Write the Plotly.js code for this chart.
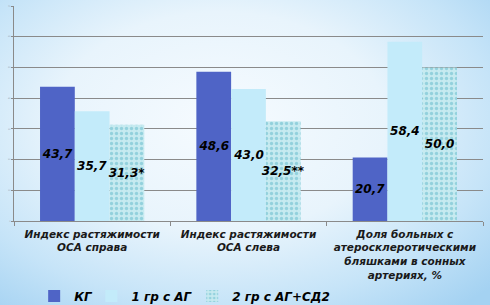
<!DOCTYPE html>
<html>
<head>
<meta charset="utf-8">
<script src="https://cdn.plot.ly/plotly-3.0.1.min.js"></script>
<style>
html,body{margin:0;padding:0;}
body{width:490px;height:305px;overflow:hidden;
background: radial-gradient(ellipse 75% 80% at 45% 40%, #f6fbff 0%, #e8f4fc 45%, #c6e4f8 75%, #a4d2f2 100%);}
#chart{width:490px;height:305px;}
</style>
</head>
<body>
<div id="chart"></div>
<script>
const categories = [
  'Индекс растяжимости<br>ОСА справа',
  'Индекс растяжимости<br>ОСА слева',
  'Доля больных с<br>атеросклеротическими<br>бляшками в сонных<br>артериях, %'
];
const seriesNames = ['КГ', '1 гр с АГ', '2 гр с АГ+СД2'];
const valuesKG = [43.7, 48.6, 20.7];
const valuesAG = [35.7, 43.0, 58.4];
const valuesAGSD = [31.3, 32.5, 50.0];
const labelsKG = ['43,7', '48,6', '20,7'];
const labelsAG = ['35,7', '43,0', '58,4'];
const labelsAGSD = ['31,3*', '32,5**', '50,0'];
const yTicks = [0, 10, 20, 30, 40, 50, 60, 70];

const labelFont = {family: 'DejaVu Sans', size: 12, color: '#000', weight: 'bold', style: 'italic'};
const legendFont = {family: 'DejaVu Sans', size: 12, color: '#000', weight: 'bold', style: 'italic'};

function barTrace(name, vals, labels, marker, legendId) {
  return {
    type: 'bar', name: name, x: categories, y: vals, text: labels,
    textposition: 'inside', insidetextanchor: 'middle', constraintext: 'none',
    textangle: 0, insidetextfont: labelFont, textfont: labelFont,
    marker: marker, hoverinfo: 'none', cliponaxis: false, legend: legendId
  };
}

const data = [
  barTrace(seriesNames[0], valuesKG, labelsKG, {color: '#4f64c6', line: {width: 0}}, 'legend'),
  barTrace(seriesNames[1], valuesAG, labelsAG, {color: '#c3ebfa', line: {width: 0}}, 'legend2'),
  barTrace(seriesNames[2], valuesAGSD, labelsAGSD, {
    color: '#c4e9ef', line: {width: 0},
    pattern: {shape: '.', fgcolor: '#93d1dd', bgcolor: '#c6eaf0', size: 5, solidity: 0.35}
  }, 'legend3')
];

function legendAt(x) {
  return {orientation: 'h', x: x, xanchor: 'left', y: -0.349, yanchor: 'middle',
    font: legendFont, bgcolor: 'rgba(0,0,0,0)', itemwidth: 30, borderwidth: 0};
}

const layout = {
  width: 490, height: 305,
  paper_bgcolor: 'rgba(0,0,0,0)', plot_bgcolor: 'rgba(0,0,0,0)',
  margin: {l: 14, r: 7, t: 6, b: 84, autoexpand: false},
  barmode: 'group', bargap: 0.333, bargroupgap: 0,
  showlegend: true,
  legend: legendAt(0.043),
  legend2: legendAt(0.165),
  legend3: legendAt(0.380),
  xaxis: {
    type: 'category', showline: true, linecolor: '#8a8a8a', linewidth: 1,
    ticks: 'outside', tickson: 'boundaries', ticklen: 4, tickcolor: '#8a8a8a',
    ticklabelstandoff: 3, automargin: false,
    tickfont: {family: 'DejaVu Sans', size: 10.5, color: '#1a1a1a', weight: 'bold', style: 'italic'},
    showgrid: false, fixedrange: true
  },
  yaxis: {
    range: [0, 70], tickvals: yTicks, showline: true, linecolor: '#8a8a8a', linewidth: 1,
    ticks: 'outside', ticklen: 2, tickcolor: '#8a8a8a', automargin: false,
    showgrid: true, gridcolor: '#8a8a8a', gridwidth: 1,
    tickfont: {family: 'DejaVu Sans', size: 2, color: '#8899aa'},
    zeroline: false, fixedrange: true
  }
};

Plotly.newPlot('chart', data, layout, {displayModeBar: false, staticPlot: true});
</script>
</body>
</html>
